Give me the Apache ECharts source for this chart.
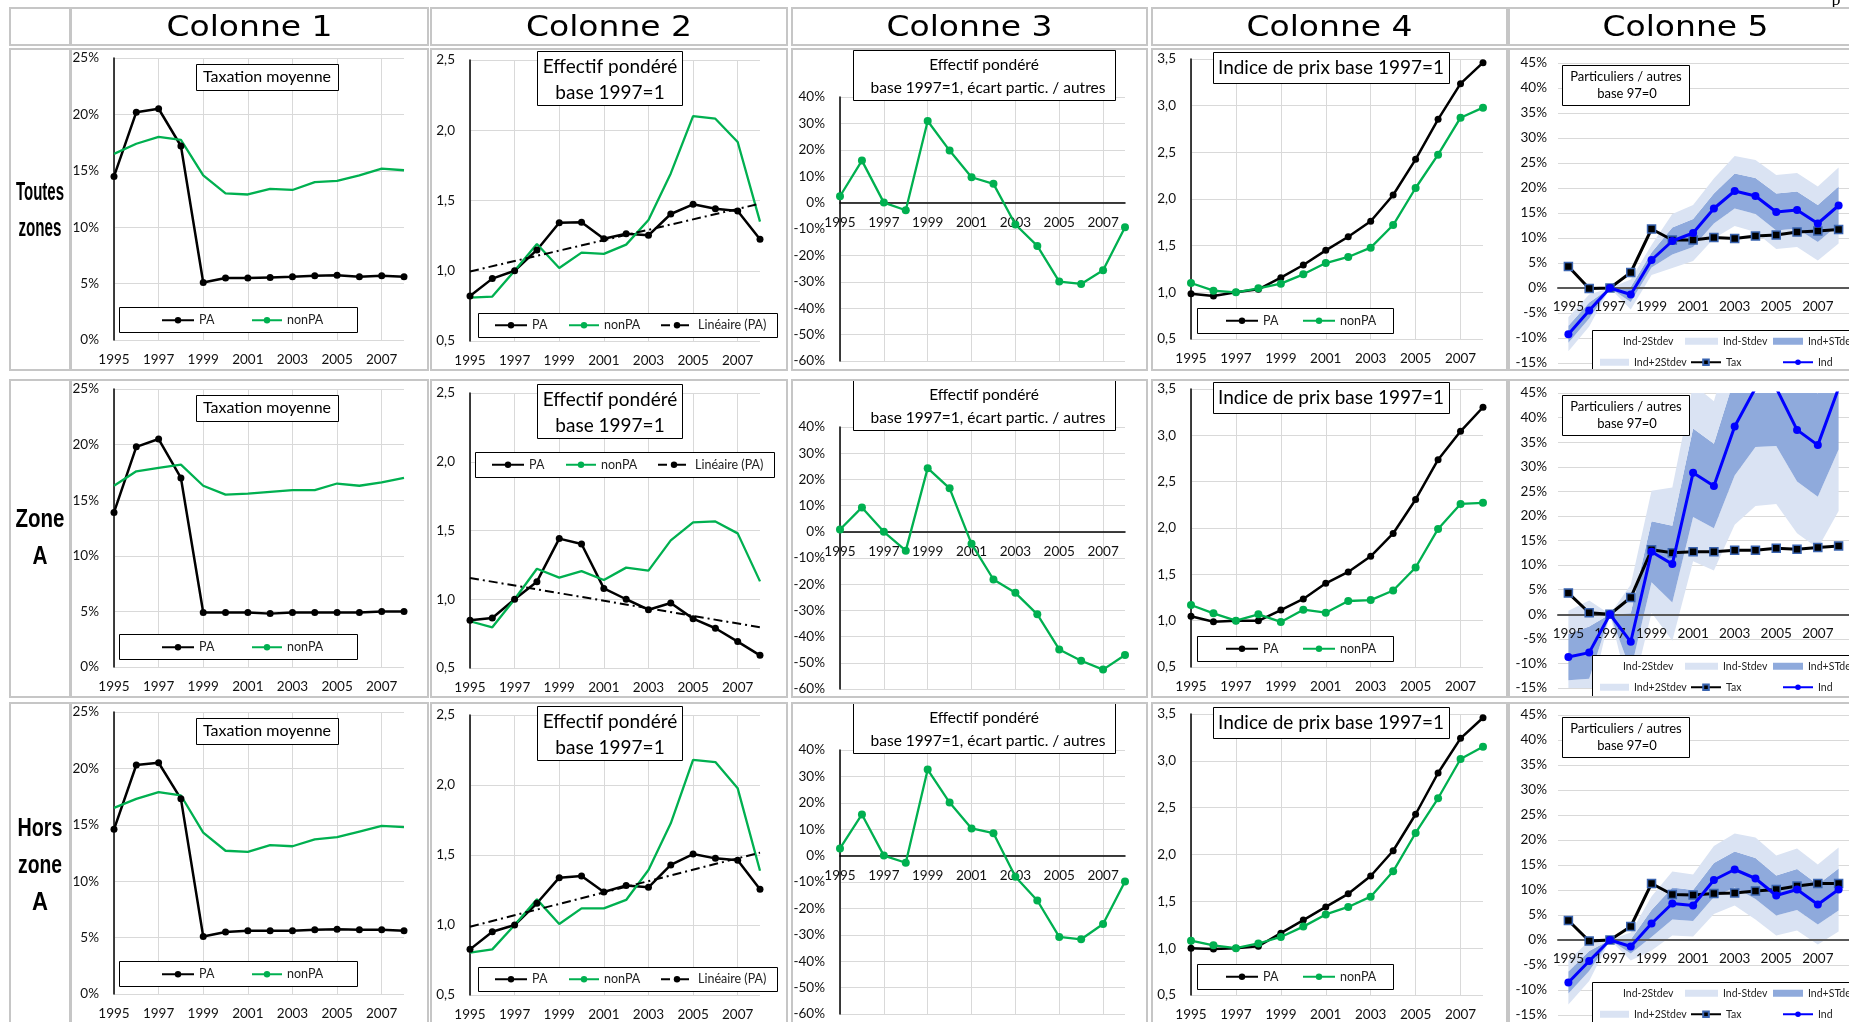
<!DOCTYPE html>
<html><head><meta charset="utf-8">
<script src="https://cdn.jsdelivr.net/npm/echarts@6/dist/echarts.min.js"></script>
<style>html,body{margin:0;padding:0;background:#fff;overflow:hidden}#c{width:1849px;height:1022px}</style>
</head><body><div id="c"></div>
<script>
// ---------- categories ----------
const years = ['1995','1996','1997','1998','1999','2000','2001','2002','2003','2004','2005','2006','2007','2008'];
const colHeaders = ['Colonne 1','Colonne 2','Colonne 3','Colonne 4','Colonne 5'];
const rowLabels = [['Toutes','zones'],['Zone','A'],['Hors','zone','A']];

// ---------- Colonne 1 : Taxation moyenne (%) ----------
const tax_PA_r1    = [14.5, 20.2, 20.5, 17.2, 5.1, 5.5, 5.5, 5.55, 5.6, 5.7, 5.75, 5.6, 5.7, 5.6];
const tax_nonPA_r1 = [16.5, 17.4, 18.0, 17.75, 14.6, 13.0, 12.9, 13.4, 13.3, 14.0, 14.1, 14.6, 15.2, 15.05];
const tax_PA_r2    = [13.9, 19.8, 20.5, 17.0, 4.9, 4.9, 4.9, 4.8, 4.9, 4.9, 4.9, 4.9, 5.0, 5.0];
const tax_nonPA_r2 = [16.3, 17.6, 17.9, 18.2, 16.3, 15.5, 15.6, 15.75, 15.9, 15.9, 16.5, 16.3, 16.6, 17.0];
const tax_PA_r3    = [14.6, 20.3, 20.5, 17.3, 5.1, 5.5, 5.6, 5.6, 5.6, 5.7, 5.75, 5.7, 5.7, 5.6];
const tax_nonPA_r3 = [16.5, 17.3, 17.9, 17.6, 14.3, 12.7, 12.6, 13.2, 13.1, 13.7, 13.9, 14.4, 14.9, 14.8];

// ---------- Colonne 2 : Effectif pondéré base 1997=1 ----------
const eff_PA_r1    = [0.82, 0.944, 1.0, 1.148, 1.342, 1.345, 1.228, 1.264, 1.252, 1.404, 1.473, 1.442, 1.425, 1.224];
const eff_nonPA_r1 = [0.808, 0.816, 1.0, 1.19, 1.02, 1.129, 1.12, 1.186, 1.361, 1.693, 2.10, 2.082, 1.916, 1.35];
const trend_r1     = [0.995, 1.477];   // Linéaire (PA) at 1995 and 2008
const eff_PA_r2    = [0.847, 0.864, 1.0, 1.128, 1.441, 1.402, 1.079, 1.0, 0.924, 0.973, 0.859, 0.789, 0.692, 0.592];
const eff_nonPA_r2 = [0.84, 0.796, 1.0, 1.222, 1.157, 1.205, 1.14, 1.23, 1.208, 1.428, 1.559, 1.566, 1.479, 1.13];
const trend_r2     = [1.155, 0.796];
const eff_PA_r3    = [0.826, 0.952, 1.0, 1.155, 1.338, 1.35, 1.236, 1.283, 1.269, 1.429, 1.507, 1.476, 1.462, 1.255];
const eff_nonPA_r3 = [0.802, 0.826, 1.0, 1.183, 1.007, 1.119, 1.119, 1.179, 1.393, 1.726, 2.179, 2.164, 1.976, 1.388];
const trend_r3     = [0.988, 1.517];

// ---------- Colonne 3 : écart partic. / autres (%) ----------
const ecart_r1 = [2.4, 15.9, 0, -2.9, 30.9, 19.7, 9.6, 7.1, -8.3, -16.4, -29.9, -30.8, -25.6, -9.3];
const ecart_r2 = [0.9, 9.3, 0, -7.2, 24.3, 16.6, -4.6, -18.2, -23.3, -31.5, -44.9, -49.2, -52.6, -47.0];
const ecart_r3 = [2.7, 15.6, 0, -2.7, 32.6, 20.1, 10.3, 8.5, -8.0, -17.0, -30.8, -31.7, -25.9, -9.8];

// ---------- Colonne 4 : Indice de prix base 1997=1 ----------
const prix_PA_r1    = [0.986, 0.961, 1.0, 1.032, 1.157, 1.293, 1.45, 1.596, 1.761, 2.043, 2.425, 2.854, 3.236, 3.461];
const prix_nonPA_r1 = [1.1, 1.018, 1.0, 1.043, 1.093, 1.193, 1.314, 1.379, 1.479, 1.721, 2.118, 2.475, 2.871, 2.979];
const prix_PA_r2    = [1.047, 0.989, 1.0, 0.998, 1.115, 1.234, 1.403, 1.526, 1.695, 1.941, 2.308, 2.737, 3.043, 3.303];
const prix_nonPA_r2 = [1.169, 1.079, 1.0, 1.068, 0.986, 1.119, 1.086, 1.212, 1.222, 1.325, 1.574, 1.99, 2.26, 2.272];
const prix_PA_r3    = [1.0, 0.99, 1.0, 1.02, 1.16, 1.30, 1.44, 1.58, 1.77, 2.04, 2.43, 2.87, 3.24, 3.46];
const prix_nonPA_r3 = [1.08, 1.03, 1.0, 1.05, 1.12, 1.23, 1.36, 1.44, 1.55, 1.82, 2.23, 2.60, 3.02, 3.15];

// ---------- Colonne 5 : Particuliers / autres base 97=0 (%) ----------
const ind_r1  = [-9.25, -4.5, 0, -1.3, 5.6, 9.4, 11.0, 15.9, 19.4, 18.4, 15.2, 15.6, 12.9, 16.5];
const tax5_r1 = [4.3, -0.1, 0, 3.1, 11.8, 9.6, 9.6, 10.1, 9.9, 10.4, 10.6, 11.2, 11.4, 11.7];
const sd_r1   = [1.7, 1.6, 0, 1.5, 1.5, 2.7, 2.8, 3.0, 3.5, 3.6, 3.7, 3.7, 3.7, 3.8];
const ind_r2  = [-8.7, -7.8, 0, -5.6, 12.7, 10.2, 28.8, 26.1, 38.2, 46.0, 46.0, 37.5, 34.4, 46.0];
const tax5_r2 = [4.3, 0.3, 0, 3.4, 13.1, 12.5, 12.7, 12.7, 13.0, 13.0, 13.4, 13.2, 13.6, 13.9];
const sd_r2   = [4.7, 5.3, 0, 5.8, 6.2, 7.8, 9.0, 8.6, 10.0, 12.0, 11.8, 10.5, 10.5, 12.5];
const ind_r3  = [-8.5, -4.2, 0, -1.3, 3.3, 7.3, 6.9, 12.0, 14.1, 12.3, 8.9, 10.1, 7.1, 10.1];
const tax5_r3 = [3.9, -0.2, 0, 2.7, 11.3, 9.1, 9.0, 9.3, 9.4, 9.8, 10.1, 10.8, 11.3, 11.3];
const sd_r3   = [2.2, 2.0, 0, 1.4, 2.7, 3.2, 3.1, 3.4, 3.6, 4.1, 4.0, 4.1, 4.0, 4.2];

const rowsData = [
  {taxPA:tax_PA_r1, taxNon:tax_nonPA_r1, effPA:eff_PA_r1, effNon:eff_nonPA_r1, trend:trend_r1, ecart:ecart_r1, prixPA:prix_PA_r1, prixNon:prix_nonPA_r1, ind:ind_r1, tax:tax5_r1, sd:sd_r1},
  {taxPA:tax_PA_r2, taxNon:tax_nonPA_r2, effPA:eff_PA_r2, effNon:eff_nonPA_r2, trend:trend_r2, ecart:ecart_r2, prixPA:prix_PA_r2, prixNon:prix_nonPA_r2, ind:ind_r2, tax:tax5_r2, sd:sd_r2},
  {taxPA:tax_PA_r3, taxNon:tax_nonPA_r3, effPA:eff_PA_r3, effNon:eff_nonPA_r3, trend:trend_r3, ecart:ecart_r3, prixPA:prix_PA_r3, prixNon:prix_nonPA_r3, ind:ind_r3, tax:tax5_r3, sd:sd_r3}
];

// ---------- layout & style ----------
const GREEN='#00B050', GRIDC='#D9D9D9', LIGHT='#DAE3F3', DARK='#8FAADC', BLUE='#0000FF';
const FONT='Lato';
const COLX=[[114,290],[470,290],[840,285],[1191,292],[1558,291]];
const ROWY=[
  [[58,282],[60,281],[97,264],[59,280],[63,300]],
  [[389,278],[393,275],[427,262],[389,278],[393,295]],
  [[712,282],[715,280],[750,264],[714,281],[715,300]]
];
const CELLX=[[10,70],[71,428],[431,787],[792,1147],[1152,1507],[1509,1862]];
const ROWCELL=[[49,370],[380,697],[703,1032]];
const HEAD=[8,45];

const pct = v => v + '%';
const comma = v => v.toFixed(1).replace('.', ',');
const yCfg=[
  {min:0,max:25,interval:5,fmt:pct},
  {min:0.5,max:2.5,interval:0.5,fmt:comma},
  {min:-60,max:40,interval:10,fmt:pct},
  {min:0.5,max:3.5,interval:0.5,fmt:comma},
  {min:-15,max:45,interval:5,fmt:pct}
];

const ctx = document.createElement('canvas').getContext('2d');
function fitScale(text, font, target){ ctx.font = font; const w = ctx.measureText(text).width; return w>0 ? target/w : 1; }

const grid=[], xAxis=[], yAxis=[], series=[], legend=[], graphic=[];

function box(x,y,w,h){ graphic.push({type:'rect', shape:{x:x+0.5,y:y+0.5,width:w,height:h}, style:{fill:'#fff', stroke:'#000', lineWidth:1}, z:50}); }
function txt(t,x,y,font,scaleX){ graphic.push({type:'text', x:x, y:y, scaleX:scaleX||1, style:{text:t, x:0, y:0, font:font, fill:'#000', align:'center', verticalAlign:'middle', textAlign:'center', textVerticalAlign:'middle'}, z:52}); }
function leg(name, left, cy, fs, iw, ih, extra){
  const topY = cy - Math.max(ih, fs)/2;
  const item = Object.assign({name:name}, extra||{});
  legend.push({show:true, left:left, top:topY, padding:0, itemWidth:iw, itemHeight:ih, selectedMode:false, z:60,
    data:[item], formatter: n => n.split('|')[1],
    textStyle:{fontFamily:FONT, fontSize:fs, color:'#222'}});
}

for (let r=0;r<3;r++){
  const d = rowsData[r];
  for (let c=0;c<5;c++){
    const gi = r*5+c, p = 'r'+r+'c'+c;
    const [L,W] = COLX[c]; const [T,H] = ROWY[r][c]; const B = T+H;
    grid.push({left:L, top:T, width:W, height:H, containLabel:false, outerBoundsMode:'none'});
    const yc = yCfg[c];
    // axis placed on the zero line for columns 3 and 5 (via offset from the bottom edge)
    const zeroOffset = (c===2||c===4) ? -H*(0 - yc.min)/(yc.max - yc.min) : 0;
    xAxis.push({gridIndex:gi, type:'category', data:years, boundaryGap: c===4, z: c===4?5:0,
      position:'bottom', offset: zeroOffset,
      axisLine:{show: c===2||c===4, onZero:false, lineStyle:{color: c===2?'#000':'#595959', width: c===2?1.5:2}},
      axisTick:{show:false, interval:1},
      axisLabel:{interval:1, margin: c===4?12:13, fontFamily:FONT, fontSize:13.5, color:'#111'},
      splitLine:{show: c!==4, interval:1, lineStyle:{color:GRIDC, width:1}}
    });
    yAxis.push({gridIndex:gi, type:'value', min:yc.min, max:yc.max, interval:yc.interval,
      axisLine:{show: c!==4, onZero:false, lineStyle:{color:'#000', width:1.5}},
      axisTick:{show:false},
      axisLabel:{formatter:yc.fmt, margin: c===4?11:15, fontFamily:FONT, fontSize:13.5, color:'#111'},
      splitLine:{show:true, lineStyle:{color:GRIDC, width:1}}
    });
    const ax = {xAxisIndex:gi, yAxisIndex:gi};
    const blackLine = (name,data)=>Object.assign({name:p+'|'+name, type:'line', data:data, symbol:'circle', symbolSize:7,
      lineStyle:{color:'#000', width:2.5}, itemStyle:{color:'#000'}, z:4}, ax);
    const greenLine = (name,data,sym)=>Object.assign({name:p+'|'+name, type:'line', data:data, symbol: sym?'circle':'none', symbolSize:8,
      lineStyle:{color:GREEN, width:2.3}, itemStyle:{color:GREEN}, z:4}, ax);

    if (c===0){
      series.push(blackLine('PA', d.taxPA));
      series.push(greenLine('nonPA', d.taxNon, false));
      box(196, T+6, 142, 26);
      txt('Taxation moyenne', 267, T+19, '16px Lato');
      box(119, B-33, 238, 25);
      leg(p+'|PA', 161, B-20, 12.5, 32, 8);
      leg(p+'|nonPA', 251, B-20, 12.5, 30, 8);
    } else if (c===1){
      series.push(blackLine('PA', d.effPA));
      series.push(greenLine('nonPA', d.effNon, false));
      series.push(Object.assign({name:p+'|Linéaire (PA)', type:'line', data:[[years[0], d.trend[0]],[years[13], d.trend[1]]], symbol:'none',
        lineStyle:{color:'#000', width:2, type:[9,4,2,4]}, itemStyle:{color:'#000'}, z:5}, ax));
      box(537, T-9, 145, 54);
      txt('Effectif pondéré', 610, T+7, '19px Lato');
      txt('base 1997=1', 610, T+33, '19px Lato');
      let cy;
      if (r===1){ box(475, T+59, 299, 25); cy = T+71.5; }
      else { box(478, B-28, 299, 24); cy = B-16; }
      const dx = r===1 ? -3 : 0;
      leg(p+'|PA', 494+dx, cy, 12.5, 32, 8);
      leg(p+'|nonPA', 568+dx, cy, 12.5, 30, 8);
      leg(p+'|Linéaire (PA)', 660+dx, cy, 12.5, 32, 8);
    } else if (c===2){
      series.push(greenLine('écart', d.ecart, true));
      box(853, T-47, 262, 50);
      txt('Effectif pondéré', 984, T-32, '15.5px Lato');
      txt(' base 1997=1, écart partic. / autres', 986, T-9, '15.5px Lato');
    } else if (c===3){
      series.push(blackLine('PA', d.prixPA));
      series.push(greenLine('nonPA', d.prixNon, true));
      box(1213, T-7, 236, 31);
      txt('Indice de prix base 1997=1', 1331, T+8.5, '19px Lato');
      box(1197, B-31, 196, 25);
      leg(p+'|PA', 1225, B-18.5, 12.5, 32, 8);
      leg(p+'|nonPA', 1302, B-18.5, 12.5, 32, 8);
    } else {
      const stack = 'band'+gi;
      const base = d.ind.map((v,i)=>v-2*d.sd[i]);
      const band = (name,data,color)=>Object.assign({name:p+'|'+name, type:'line', stack:stack, stackStrategy:'all', data:data, symbol:'none',
        lineStyle:{width:0, opacity:0}, itemStyle:{color: color||'rgba(0,0,0,0)'}, areaStyle: color?{color:color, opacity:1}:undefined, z:2}, ax);
      series.push(band('Ind-2Stdev', base, null));
      series.push(band('Ind-Stdev', d.sd, LIGHT));
      series.push(band('Ind+STdev', d.sd.map(v=>2*v), DARK));
      series.push(band('Ind+2Stdev', d.sd, LIGHT));
      series.push(Object.assign({name:p+'|Tax', type:'line', data:d.tax, symbol:'rect', symbolSize:8,
        lineStyle:{color:'#000', width:3}, itemStyle:{color:'#000', borderColor:'#3A64B0', borderWidth:1.5}, z:6}, ax));
      series.push(Object.assign({name:p+'|Ind', type:'line', data:d.ind, symbol:'circle', symbolSize:8,
        lineStyle:{color:BLUE, width:3}, itemStyle:{color:BLUE}, z:7}, ax));
      box(1562, T+2, 127, 40);
      txt('Particuliers / autres', 1626, T+14, '13px Lato');
      txt('base 97=0', 1627, T+31, '13px Lato');
      const pb = ROWCELL[r][1];
      box(1592, B-33, 270, pb-(B-33));
      leg(p+'|Ind-2Stdev', 1590, B-22, 10.5, 28, 7, {icon:'rect', itemStyle:{color:'rgba(0,0,0,0)'}});
      leg(p+'|Ind-Stdev', 1685, B-22, 10.5, 33, 7, {icon:'rect', itemStyle:{color:LIGHT}});
      leg(p+'|Ind+STdev', 1773, B-22, 10.5, 30, 7, {icon:'rect', itemStyle:{color:DARK}});
      leg(p+'|Ind+2Stdev', 1600, B-1, 10.5, 29, 7, {icon:'rect', itemStyle:{color:LIGHT}});
      leg(p+'|Tax', 1690, B-1, 10.5, 30, 7);
      leg(p+'|Ind', 1782, B-1, 10.5, 30, 7);
    }
  }
}

// ---------- table cells ----------
function cell(x0,y0,x1,y1){ graphic.push({type:'rect', shape:{x:x0,y:y0,width:x1-x0,height:y1-y0}, style:{fill:'none', stroke:'#C6C6C6', lineWidth:2}, z:100}); }
for (let c=0;c<6;c++) cell(CELLX[c][0], HEAD[0], CELLX[c][1], HEAD[1]);
for (let r=0;r<3;r++) for (let c=0;c<6;c++) cell(CELLX[c][0], ROWCELL[r][0], CELLX[c][1], ROWCELL[r][1]);

// headers
const HFONT = '29px "DejaVu Sans"';
for (let c=0;c<5;c++){
  const cx = (CELLX[c+1][0]+CELLX[c+1][1])/2;
  txt(colHeaders[c], cx, 28, HFONT, fitScale(colHeaders[c], HFONT, 166));
}
// row labels
const RFONT = 'bold 25px "Liberation Sans"';
const rowLabelPos = [[[193,48],[229,43]], [[520,49],[557,15]], [[829,45],[866,44],[903,16]]];
for (let r=0;r<3;r++){
  rowLabels[r].forEach((t,i)=>{
    const [y,w] = rowLabelPos[r][i];
    txt(t, 40, y, RFONT, fitScale(t, RFONT, w));
  });
}
// cut-off page text at the top-right corner
graphic.push({type:'text', x:1836, y:-9, style:{text:'p', x:0, y:0, font:'18px "Liberation Serif"', fill:'#000', align:'center', verticalAlign:'top', textAlign:'center', textVerticalAlign:'top'}, z:52});

const chart = echarts.init(document.getElementById('c'));
chart.setOption({animation:false, backgroundColor:'#fff', grid, xAxis, yAxis, series, legend, graphic});
</script></body></html>
